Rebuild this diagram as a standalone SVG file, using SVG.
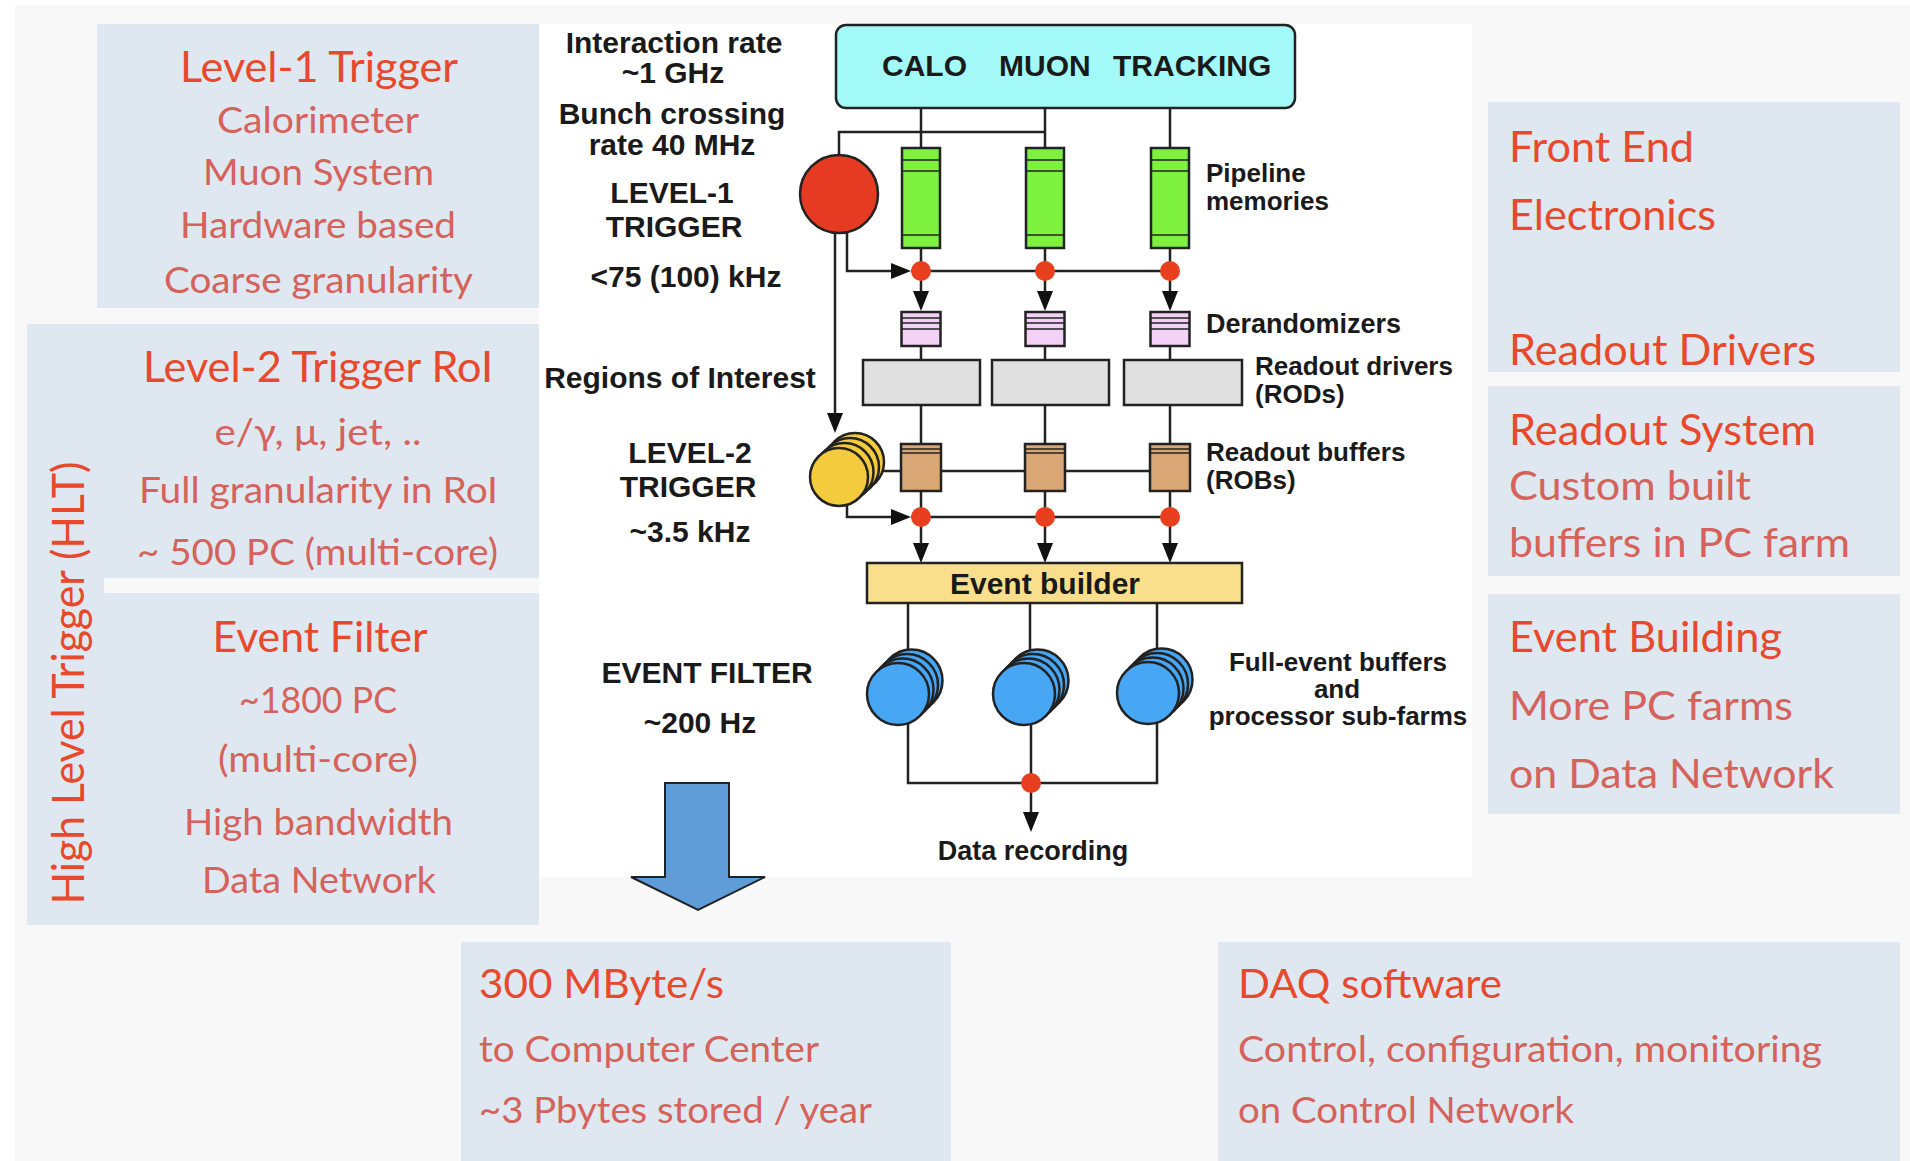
<svg xmlns="http://www.w3.org/2000/svg" width="1910" height="1161" viewBox="0 0 1910 1161">
<defs>
<style>
.bx{fill:#dfe8f0}
.h{font-family:Lato,"Open Sans","Liberation Sans",sans-serif;fill:#e8482b}
.s{font-family:Lato,"Open Sans","Liberation Sans",sans-serif;fill:#d5625b}
.d{font-family:"Liberation Sans",Arial,sans-serif;font-weight:bold;fill:#1a1a1a}
.ln{stroke:#222;stroke-width:2.5;fill:none}
.ol{stroke:#222;stroke-width:2.5}
.thin{stroke:#222;stroke-width:1.6}
.dot{fill:#e8401f}
.pl{fill:#7ef03e}
.dr{fill:#f3d0f6}
.rod{fill:#e0e0e0}
.rob{fill:#d9a775}
.yel{fill:#f4cb3c}
.blu{fill:#47a7f4}
</style>
<marker id="ah" markerUnits="userSpaceOnUse" markerWidth="20" markerHeight="16" refX="4" refY="8" orient="auto"><path d="M0,0 L20,8 L0,16 z" fill="#111"/></marker>
</defs>

<g id="background">
<rect width="1910" height="1161" fill="#ffffff"/>
<rect x="15" y="6" width="1895" height="1155" fill="#f8f8f8"/>
<rect x="538" y="24" width="934" height="853" fill="#ffffff"/>
</g>

<g id="level1-box">
<rect class="bx" x="97" y="24" width="442" height="284"/>
<text class="h" x="319" y="82" font-size="42" text-anchor="middle" textLength="278" lengthAdjust="spacingAndGlyphs">Level-1 Trigger</text>
<text class="s" x="318" y="133" font-size="37" text-anchor="middle" textLength="202" lengthAdjust="spacingAndGlyphs">Calorimeter</text>
<text class="s" x="318.5" y="185" font-size="37" text-anchor="middle" textLength="231" lengthAdjust="spacingAndGlyphs">Muon System</text>
<text class="s" x="318" y="238" font-size="37" text-anchor="middle" textLength="276" lengthAdjust="spacingAndGlyphs">Hardware based</text>
<text class="s" x="318.5" y="293" font-size="37" text-anchor="middle" textLength="309" lengthAdjust="spacingAndGlyphs">Coarse granularity</text>
</g>

<g id="hlt-box">
<rect class="bx" x="27" y="324" width="512" height="601"/>
<rect x="104" y="578" width="435" height="15" fill="#f8f8f8"/>
<text class="h" transform="translate(84,683) rotate(-90)" font-size="44" text-anchor="middle" textLength="443" lengthAdjust="spacingAndGlyphs">High Level Trigger (HLT)</text>
</g>

<g id="level2-box">
<text class="h" x="318" y="382" font-size="42" text-anchor="middle" textLength="350" lengthAdjust="spacingAndGlyphs">Level-2 Trigger RoI</text>
<text class="s" x="318" y="445" font-size="37" text-anchor="middle" textLength="207" lengthAdjust="spacingAndGlyphs">e/γ, μ, jet, ..</text>
<text class="s" x="318.5" y="503" font-size="37" text-anchor="middle" textLength="359" lengthAdjust="spacingAndGlyphs">Full granularity in RoI</text>
<text class="s" x="317.5" y="565" font-size="37" text-anchor="middle" textLength="361" lengthAdjust="spacingAndGlyphs">~ 500 PC (multi-core)</text>
</g>

<g id="event-filter-box">
<text class="h" x="320" y="652" font-size="42" text-anchor="middle" textLength="215" lengthAdjust="spacingAndGlyphs">Event Filter</text>
<text class="s" x="318" y="713" font-size="37" text-anchor="middle" textLength="158" lengthAdjust="spacingAndGlyphs">~1800 PC</text>
<text class="s" x="318" y="772" font-size="37" text-anchor="middle" textLength="200" lengthAdjust="spacingAndGlyphs">(multi-core)</text>
<text class="s" x="318.5" y="835" font-size="37" text-anchor="middle" textLength="269" lengthAdjust="spacingAndGlyphs">High bandwidth</text>
<text class="s" x="319" y="893" font-size="37" text-anchor="middle" textLength="234" lengthAdjust="spacingAndGlyphs">Data Network</text>
</g>

<g id="front-end-box">
<rect class="bx" x="1488" y="102" width="412" height="270"/>
<text class="h" x="1509" y="162" font-size="43" textLength="185" lengthAdjust="spacingAndGlyphs">Front End</text>
<text class="h" x="1509" y="230" font-size="43" textLength="207" lengthAdjust="spacingAndGlyphs">Electronics</text>
<text class="h" x="1509" y="365" font-size="43" textLength="307" lengthAdjust="spacingAndGlyphs">Readout Drivers</text>
</g>

<g id="readout-system-box">
<rect class="bx" x="1488" y="386" width="412" height="190"/>
<text class="h" x="1509" y="445" font-size="43" textLength="307" lengthAdjust="spacingAndGlyphs">Readout System</text>
<text class="s" x="1509" y="500" font-size="40" textLength="242" lengthAdjust="spacingAndGlyphs">Custom built</text>
<text class="s" x="1509" y="557" font-size="40" textLength="341" lengthAdjust="spacingAndGlyphs">buffers in PC farm</text>
</g>

<g id="event-building-box">
<rect class="bx" x="1488" y="594" width="412" height="220"/>
<text class="h" x="1509" y="652" font-size="43" textLength="273" lengthAdjust="spacingAndGlyphs">Event Building</text>
<text class="s" x="1509" y="720" font-size="40" textLength="284" lengthAdjust="spacingAndGlyphs">More PC farms</text>
<text class="s" x="1509" y="788" font-size="40" textLength="325" lengthAdjust="spacingAndGlyphs">on Data Network</text>
</g>

<g id="computer-center-box">
<rect class="bx" x="461" y="942" width="490" height="219"/>
<text class="h" x="479" y="998" font-size="41" textLength="245" lengthAdjust="spacingAndGlyphs">300 MByte/s</text>
<text class="s" x="479" y="1062" font-size="37" textLength="340" lengthAdjust="spacingAndGlyphs">to Computer Center</text>
<text class="s" x="479" y="1123" font-size="37" textLength="393" lengthAdjust="spacingAndGlyphs">~3 Pbytes stored / year</text>
</g>

<g id="daq-software-box">
<rect class="bx" x="1218" y="942" width="682" height="219"/>
<text class="h" x="1238" y="998" font-size="41" textLength="264" lengthAdjust="spacingAndGlyphs">DAQ software</text>
<text class="s" x="1238" y="1062" font-size="37" textLength="584" lengthAdjust="spacingAndGlyphs">Control, configuration, monitoring</text>
<text class="s" x="1238" y="1123" font-size="37" textLength="336" lengthAdjust="spacingAndGlyphs">on Control Network</text>
</g>

<g id="rate-labels" class="d" font-size="30" text-anchor="middle">
<text x="674" y="53">Interaction rate</text>
<text x="673" y="83">~1 GHz</text>
<text x="672" y="124">Bunch crossing</text>
<text x="672" y="155">rate 40 MHz</text>
<text x="672" y="203">LEVEL-1</text>
<text x="674" y="237">TRIGGER</text>
<text x="686" y="287">&lt;75 (100) kHz</text>
<text x="680" y="388">Regions of Interest</text>
<text x="690" y="463">LEVEL-2</text>
<text x="688" y="497">TRIGGER</text>
<text x="690" y="542">~3.5 kHz</text>
<text x="707" y="683">EVENT FILTER</text>
<text x="700" y="733">~200 Hz</text>
</g>

<g id="connectors">
<path class="ln" d="M921,108 V148 M1045,108 V148 M1170,108 V148"/>
<path class="ln" d="M839,155 V132 H1045"/>
<path class="ln" d="M921,248 V271 M1045,248 V271 M1170,248 V271"/>
<path class="ln" d="M847,232 V271 H895" marker-end="url(#ah)"/>
<path class="ln" d="M911,271 H1170"/>
<path class="ln" d="M921,271 V295" marker-end="url(#ah)"/>
<path class="ln" d="M1045,271 V295" marker-end="url(#ah)"/>
<path class="ln" d="M1170,271 V295" marker-end="url(#ah)"/>
<path class="ln" d="M835,233 V417" marker-end="url(#ah)"/>
<path class="ln" d="M921,346 V360 M1045,346 V360 M1170,346 V360"/>
<path class="ln" d="M921,405 V444 M1045,405 V444 M1170,405 V444"/>
<path class="ln" d="M870,471 H1170"/>
<path class="ln" d="M921,491 V517 M1045,491 V517 M1170,491 V517"/>
<path class="ln" d="M847,505 V517 H895" marker-end="url(#ah)"/>
<path class="ln" d="M911,517 H1170"/>
<path class="ln" d="M921,517 V547" marker-end="url(#ah)"/>
<path class="ln" d="M1045,517 V547" marker-end="url(#ah)"/>
<path class="ln" d="M1170,517 V547" marker-end="url(#ah)"/>
<path class="ln" d="M908,603 V660 M1030,603 V660 M1157,603 V660"/>
<path class="ln" d="M908,700 V783 H1157 V700 M1031,700 V783"/>
<path class="ln" d="M1031,783 V816" marker-end="url(#ah)"/>
<circle class="dot" cx="921" cy="271" r="10"/>
<circle class="dot" cx="1045" cy="271" r="10"/>
<circle class="dot" cx="1170" cy="271" r="10"/>
<circle class="dot" cx="921" cy="517" r="10"/>
<circle class="dot" cx="1045" cy="517" r="10"/>
<circle class="dot" cx="1170" cy="517" r="10"/>
<circle class="dot" cx="1031" cy="783" r="10"/>
</g>

<g id="detectors">
<rect x="836" y="25" width="459" height="83" rx="10" fill="#a3f8f8" class="ol"/>
<text class="d" x="882" y="76" font-size="30">CALO</text>
<text class="d" x="999" y="76" font-size="30">MUON</text>
<text class="d" x="1113" y="76" font-size="30">TRACKING</text>
</g>

<g id="level1-trigger">
<circle cx="839" cy="194" r="39" fill="#e63b22" class="ol"/>
</g>

<g id="pipeline-memories">
<rect class="pl ol" x="902" y="148" width="38" height="100"/>
<path class="thin" d="M902,160 H940 M902,171 H940 M902,235 H940"/>
<rect class="pl ol" x="1026" y="148" width="38" height="100"/>
<path class="thin" d="M1026,160 H1064 M1026,171 H1064 M1026,235 H1064"/>
<rect class="pl ol" x="1151" y="148" width="38" height="100"/>
<path class="thin" d="M1151,160 H1189 M1151,171 H1189 M1151,235 H1189"/>
<text class="d" x="1206" y="182" font-size="26">Pipeline</text>
<text class="d" x="1206" y="210" font-size="26">memories</text>
</g>

<g id="derandomizers">
<rect class="dr ol" x="901.5" y="312" width="39" height="34"/>
<path class="thin" d="M901.5,318 H940.5 M901.5,323 H940.5 M901.5,329 H940.5"/>
<rect class="dr ol" x="1025.5" y="312" width="39" height="34"/>
<path class="thin" d="M1025.5,318 H1064.5 M1025.5,323 H1064.5 M1025.5,329 H1064.5"/>
<rect class="dr ol" x="1150.5" y="312" width="39" height="34"/>
<path class="thin" d="M1150.5,318 H1189.5 M1150.5,323 H1189.5 M1150.5,329 H1189.5"/>
<text class="d" x="1206" y="333" font-size="27">Derandomizers</text>
</g>

<g id="readout-drivers">
<rect class="rod ol" x="863" y="360" width="117" height="45"/>
<rect class="rod ol" x="992" y="360" width="117" height="45"/>
<rect class="rod ol" x="1124" y="360" width="118" height="45"/>
<text class="d" x="1255" y="375" font-size="26">Readout drivers</text>
<text class="d" x="1255" y="403" font-size="26">(RODs)</text>
</g>

<g id="level2-trigger">
<circle class="yel ol" cx="855" cy="462" r="29"/>
<circle class="yel ol" cx="850" cy="467" r="29"/>
<circle class="yel ol" cx="844.5" cy="472" r="29"/>
<circle class="yel ol" cx="839" cy="477" r="29"/>
</g>

<g id="readout-buffers">
<rect class="rob ol" x="901" y="444" width="40" height="47"/>
<path class="thin" d="M901,449 H941 M901,453 H941"/>
<rect class="rob ol" x="1025" y="444" width="40" height="47"/>
<path class="thin" d="M1025,449 H1065 M1025,453 H1065"/>
<rect class="rob ol" x="1150" y="444" width="40" height="47"/>
<path class="thin" d="M1150,449 H1190 M1150,453 H1190"/>
<text class="d" x="1206" y="461" font-size="26">Readout buffers</text>
<text class="d" x="1206" y="489" font-size="26">(ROBs)</text>
</g>

<g id="event-builder">
<rect x="867" y="563" width="375" height="40" fill="#f9df8c" class="ol"/>
<text class="d" x="1045" y="594" font-size="30" text-anchor="middle">Event builder</text>
</g>

<g id="event-filter-farms">
<circle class="blu ol" cx="911.5" cy="680.5" r="31"/>
<circle class="blu ol" cx="907" cy="685" r="31"/>
<circle class="blu ol" cx="902.5" cy="689.5" r="31"/>
<circle class="blu ol" cx="898" cy="694" r="31"/>
<circle class="blu ol" cx="1037.5" cy="680.5" r="31"/>
<circle class="blu ol" cx="1033" cy="685" r="31"/>
<circle class="blu ol" cx="1028.5" cy="689.5" r="31"/>
<circle class="blu ol" cx="1024" cy="694" r="31"/>
<circle class="blu ol" cx="1161.5" cy="679.5" r="31"/>
<circle class="blu ol" cx="1157" cy="684" r="31"/>
<circle class="blu ol" cx="1152.5" cy="688.5" r="31"/>
<circle class="blu ol" cx="1148" cy="693" r="31"/>
<text class="d" x="1338" y="671" font-size="26" text-anchor="middle">Full-event buffers</text>
<text class="d" x="1337" y="698" font-size="26" text-anchor="middle">and</text>
<text class="d" x="1338" y="725" font-size="26" text-anchor="middle">processor sub-farms</text>
</g>

<g id="data-recording">
<text class="d" x="1033" y="860" font-size="27" text-anchor="middle">Data recording</text>
</g>

<g id="output-arrow">
<polygon points="665,783 729,783 729,877 765,877 698,910 631,877 665,877" fill="#5f9cd8" stroke="#222" stroke-width="2"/>
</g>
</svg>
